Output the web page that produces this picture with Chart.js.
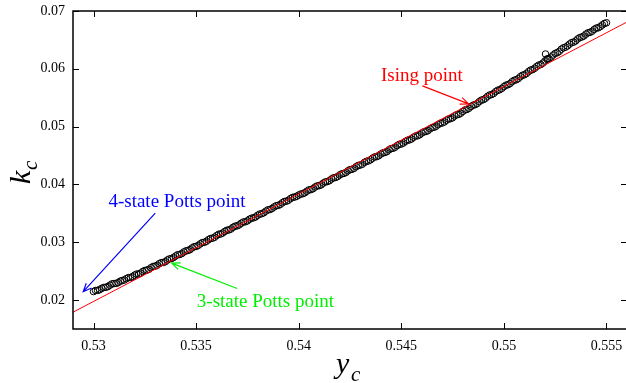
<!DOCTYPE html>
<html>
<head>
<meta charset="utf-8">
<script src="https://cdn.jsdelivr.net/npm/chart.js@4.4.1/dist/chart.umd.min.js"></script>
<style>
  html, body { margin: 0; padding: 0; background: #fff; overflow: hidden; }
  #wrap { position: relative; width: 628px; height: 383px; }
</style>
</head>
<body>
<div id="wrap"><canvas id="kcChart" width="628" height="383" style="width:628px;height:383px"></canvas></div>
<script>
// critical points along the transition line
const yc = [
  0.5300, 0.5302, 0.5304, 0.5306, 0.5308, 0.5310, 0.5312, 0.5314, 0.5316, 0.5318,
  0.5320, 0.5322, 0.5324, 0.5326, 0.5328, 0.5330, 0.5332, 0.5334, 0.5336, 0.5338,
  0.5340, 0.5342, 0.5344, 0.5346, 0.5348, 0.5350, 0.5352, 0.5354, 0.5356, 0.5358,
  0.5360, 0.5362, 0.5364, 0.5366, 0.5368, 0.5370, 0.5372, 0.5374, 0.5376, 0.5378,
  0.5380, 0.5382, 0.5384, 0.5386, 0.5388, 0.5390, 0.5392, 0.5394, 0.5396, 0.5398,
  0.5400, 0.5402, 0.5404, 0.5406, 0.5408, 0.5410, 0.5412, 0.5414, 0.5416, 0.5418,
  0.5420, 0.5422, 0.5424, 0.5426, 0.5428, 0.5430, 0.5432, 0.5434, 0.5436, 0.5438,
  0.5440, 0.5442, 0.5444, 0.5446, 0.5448, 0.5450, 0.5452, 0.5454, 0.5456, 0.5458,
  0.5460, 0.5462, 0.5464, 0.5466, 0.5468, 0.5470, 0.5472, 0.5474, 0.5476, 0.5478,
  0.5480, 0.5482, 0.5484, 0.5486, 0.5488, 0.5490, 0.5492, 0.5494, 0.5496, 0.5498,
  0.5500, 0.5502, 0.5504, 0.5506, 0.5508, 0.5510, 0.5512, 0.5514, 0.5516, 0.5518,
  0.5520, 0.5522, 0.5524, 0.5526, 0.5528, 0.5530, 0.5532, 0.5534, 0.5536, 0.5538,
  0.5540, 0.5542, 0.5544, 0.5546, 0.5548, 0.5550,
  0.55203, 0.55213,
  // second sweep, offset by half a step
  0.5301, 0.5303, 0.5305, 0.5307, 0.5309, 0.5311, 0.5313, 0.5315, 0.5317, 0.5319,
  0.5321, 0.5323, 0.5325, 0.5327, 0.5329, 0.5331, 0.5333, 0.5335, 0.5337, 0.5339,
  0.5341, 0.5343, 0.5345, 0.5347, 0.5349, 0.5351, 0.5353, 0.5355, 0.5357, 0.5359,
  0.5361, 0.5363, 0.5365, 0.5367, 0.5369, 0.5371, 0.5373, 0.5375, 0.5377, 0.5379,
  0.5381, 0.5383, 0.5385, 0.5387, 0.5389, 0.5391, 0.5393, 0.5395, 0.5397, 0.5399,
  0.5401, 0.5403, 0.5405, 0.5407, 0.5409, 0.5411, 0.5413, 0.5415, 0.5417, 0.5419,
  0.5421, 0.5423, 0.5425, 0.5427, 0.5429, 0.5431, 0.5433, 0.5435, 0.5437, 0.5439,
  0.5441, 0.5443, 0.5445, 0.5447, 0.5449, 0.5451, 0.5453, 0.5455, 0.5457, 0.5459,
  0.5461, 0.5463, 0.5465, 0.5467, 0.5469, 0.5471, 0.5473, 0.5475, 0.5477, 0.5479,
  0.5481, 0.5483, 0.5485, 0.5487, 0.5489, 0.5491, 0.5493, 0.5495, 0.5497, 0.5499,
  0.5501, 0.5503, 0.5505, 0.5507, 0.5509, 0.5511, 0.5513, 0.5515, 0.5517, 0.5519,
  0.5521, 0.5523, 0.5525, 0.5527, 0.5529, 0.5531, 0.5533, 0.5535, 0.5537, 0.5539,
  0.5541, 0.5543, 0.5545, 0.5547, 0.5549
];
const kc = [
  0.02148, 0.02168, 0.02204, 0.02222, 0.02258, 0.02286, 0.02302, 0.02339, 0.02371, 0.02390,
  0.02431, 0.02452, 0.02494, 0.02518, 0.02560, 0.02586, 0.02629, 0.02651, 0.02693, 0.02718,
  0.02763, 0.02789, 0.02832, 0.02858, 0.02902, 0.02928, 0.02972, 0.02999, 0.03045, 0.03071,
  0.03116, 0.03144, 0.03188, 0.03214, 0.03259, 0.03285, 0.03329, 0.03355, 0.03398, 0.03424,
  0.03467, 0.03494, 0.03539, 0.03566, 0.03611, 0.03638, 0.03683, 0.03710, 0.03755, 0.03782,
  0.03816, 0.03840, 0.03884, 0.03911, 0.03956, 0.03980, 0.04024, 0.04050, 0.04095, 0.04121,
  0.04165, 0.04191, 0.04236, 0.04262, 0.04308, 0.04335, 0.04381, 0.04407, 0.04454, 0.04481,
  0.04526, 0.04553, 0.04599, 0.04626, 0.04673, 0.04699, 0.04745, 0.04771, 0.04817, 0.04843,
  0.04890, 0.04916, 0.04962, 0.04989, 0.05036, 0.05064, 0.05111, 0.05138, 0.05185, 0.05212,
  0.05264, 0.05297, 0.05349, 0.05381, 0.05433, 0.05467, 0.05523, 0.05555, 0.05607, 0.05639,
  0.05692, 0.05725, 0.05778, 0.05811, 0.05864, 0.05898, 0.05952, 0.05987, 0.06041, 0.06075,
  0.06136, 0.06177, 0.06238, 0.06279, 0.06340, 0.06374, 0.06428, 0.06462, 0.06517, 0.06551,
  0.06601, 0.06631, 0.06681, 0.06710, 0.06760, 0.06796,
  0.06256, 0.06174,
  0.02166, 0.02180, 0.02218, 0.02233, 0.02280, 0.02289, 0.02327, 0.02347, 0.02388, 0.02405,
  0.02450, 0.02468, 0.02512, 0.02532, 0.02581, 0.02602, 0.02647, 0.02664, 0.02712, 0.02736,
  0.02784, 0.02804, 0.02851, 0.02872, 0.02922, 0.02945, 0.02994, 0.03016, 0.03064, 0.03087,
  0.03138, 0.03161, 0.03208, 0.03229, 0.03278, 0.03301, 0.03350, 0.03370, 0.03416, 0.03438,
  0.03488, 0.03511, 0.03561, 0.03584, 0.03631, 0.03654, 0.03705, 0.03727, 0.03776, 0.03796,
  0.03834, 0.03857, 0.03906, 0.03927, 0.03974, 0.03994, 0.04044, 0.04066, 0.04115, 0.04137,
  0.04184, 0.04207, 0.04257, 0.04279, 0.04329, 0.04350, 0.04400, 0.04426, 0.04476, 0.04497,
  0.04546, 0.04568, 0.04620, 0.04644, 0.04694, 0.04717, 0.04764, 0.04787, 0.04838, 0.04861,
  0.04910, 0.04931, 0.04982, 0.05008, 0.05058, 0.05081, 0.05131, 0.05154, 0.05206, 0.05232,
  0.05289, 0.05318, 0.05371, 0.05400, 0.05458, 0.05489, 0.05546, 0.05573, 0.05629, 0.05661,
  0.05717, 0.05745, 0.05801, 0.05830, 0.05888, 0.05919, 0.05978, 0.06009, 0.06064, 0.06099,
  0.06165, 0.06202, 0.06266, 0.06302, 0.06363, 0.06396, 0.06453, 0.06483, 0.06540, 0.06568,
  0.06623, 0.06650, 0.06704, 0.06730, 0.06784
];

// straight reference line (red)
const fitX = [0.529, 0.556];
const fitY = [0.0179, 0.0681];

// tick values
const xTicks = [0.53, 0.535, 0.54, 0.545, 0.55, 0.555];
const yTicks = [0.02, 0.03, 0.04, 0.05, 0.06, 0.07];

// annotations: text position and arrow tail -> head, in data units
const notes = [
  { text: 'Ising point', color: '#ff0000', at: [0.54600, 0.05880], from: [0.54603, 0.05706], to: [0.54828, 0.05394] },
  { text: '4-state Potts point', color: '#0000ff', at: [0.53407, 0.03700], from: [0.53301, 0.03505], to: [0.52950, 0.02145] },
  { text: '3-state Potts point', color: '#00ee00', at: [0.53838, 0.01960], from: [0.53700, 0.02200], to: [0.53381, 0.02639] }
];

const serif = '"Liberation Serif", "DejaVu Serif", serif';

function drawArrow(ctx, x1, y1, x2, y2) {
  const ang = Math.atan2(y2 - y1, x2 - x1);
  const len = 9, spread = 0.4;
  ctx.beginPath();
  ctx.moveTo(x1, y1);
  ctx.lineTo(x2, y2);
  ctx.moveTo(x2 - len * Math.cos(ang - spread), y2 - len * Math.sin(ang - spread));
  ctx.lineTo(x2, y2);
  ctx.lineTo(x2 - len * Math.cos(ang + spread), y2 - len * Math.sin(ang + spread));
  ctx.stroke();
}

// frame with inward ticks, arrows, labels and axis titles
const decorations = {
  id: 'decorations',
  afterDatasetsDraw(chart) {
    const { ctx, chartArea: a, scales: { x, y } } = chart;
    ctx.save();
    ctx.strokeStyle = '#000';
    ctx.lineWidth = 1.5;
    ctx.strokeRect(a.left, a.top, a.right - a.left, a.bottom - a.top);
    ctx.lineWidth = 1;
    ctx.beginPath();
    xTicks.forEach(v => {
      const px = Math.round(x.getPixelForValue(v)) + 0.5;
      ctx.moveTo(px, a.bottom); ctx.lineTo(px, a.bottom - 6);
      ctx.moveTo(px, a.top); ctx.lineTo(px, a.top + 6);
    });
    yTicks.forEach(v => {
      const py = Math.round(y.getPixelForValue(v)) + 0.5;
      ctx.moveTo(a.left, py); ctx.lineTo(a.left + 6, py);
      ctx.moveTo(a.right, py); ctx.lineTo(a.right - 6, py);
    });
    ctx.stroke();

    notes.forEach(n => {
      ctx.strokeStyle = n.color;
      ctx.fillStyle = n.color;
      ctx.lineWidth = 1.2;
      drawArrow(ctx,
        x.getPixelForValue(n.from[0]), y.getPixelForValue(n.from[1]),
        x.getPixelForValue(n.to[0]), y.getPixelForValue(n.to[1]));
      ctx.font = '19px ' + serif;
      ctx.textAlign = 'center';
      ctx.textBaseline = 'middle';
      ctx.fillText(n.text, x.getPixelForValue(n.at[0]), y.getPixelForValue(n.at[1]));
    });

    // axis titles with subscript
    ctx.fillStyle = '#000';
    ctx.textAlign = 'left';
    ctx.textBaseline = 'alphabetic';
    ctx.font = 'italic 30px ' + serif;
    ctx.fillText('y', 336, 373);
    ctx.font = 'italic 21px ' + serif;
    ctx.fillText('c', 351, 381);

    ctx.translate(30, 184);
    ctx.rotate(-Math.PI / 2);
    ctx.font = 'italic 30px ' + serif;
    ctx.fillText('k', 0, 0);
    ctx.font = 'italic 21px ' + serif;
    ctx.fillText('c', 14, 7);
    ctx.restore();
  }
};

const tickFont = { family: serif, size: 14 };

// keep the plot box fixed: no extra room for edge labels
function fixBox(size) {
  return s => {
    if (s.isHorizontal()) s.height = size; else s.width = size;
    s.paddingTop = 0; s.paddingBottom = 0; s.paddingLeft = 0; s.paddingRight = 0;
  };
}

new Chart(document.getElementById('kcChart').getContext('2d'), {
  type: 'scatter',
  data: {
    datasets: [
      {
        data: fitX.map((v, i) => ({ x: v, y: fitY[i] })),
        showLine: true,
        borderColor: '#ff0000',
        borderWidth: 1,
        pointRadius: 0
      },
      {
        data: yc.map((v, i) => ({ x: v, y: kc[i] })),
        pointStyle: 'circle',
        pointRadius: 3.3,
        borderWidth: 1,
        borderColor: '#000',
        backgroundColor: 'rgba(0,0,0,0)'
      }
    ]
  },
  options: {
    responsive: false,
    animation: false,
    events: [],
    layout: { autoPadding: false, padding: { top: 11, right: 1, left: 0, bottom: 0 } },
    plugins: { legend: { display: false }, tooltip: { enabled: false } },
    scales: {
      x: {
        type: 'linear', min: 0.529, max: 0.556,
        grid: { display: false, drawTicks: false },
        border: { display: false },
        ticks: {
          stepSize: 0.005, includeBounds: false, padding: 9, color: '#000', font: tickFont,
          callback: v => +v.toFixed(3)
        },
        afterFit: fixBox(54)
      },
      y: {
        type: 'linear', min: 0.015, max: 0.07,
        grid: { display: false, drawTicks: false },
        border: { display: false },
        ticks: {
          stepSize: 0.01, includeBounds: false, padding: 8, color: '#000', font: tickFont,
          callback: v => +v.toFixed(3)
        },
        afterFit: fixBox(73)
      }
    }
  },
  plugins: [decorations]
});
</script>
</body>
</html>
